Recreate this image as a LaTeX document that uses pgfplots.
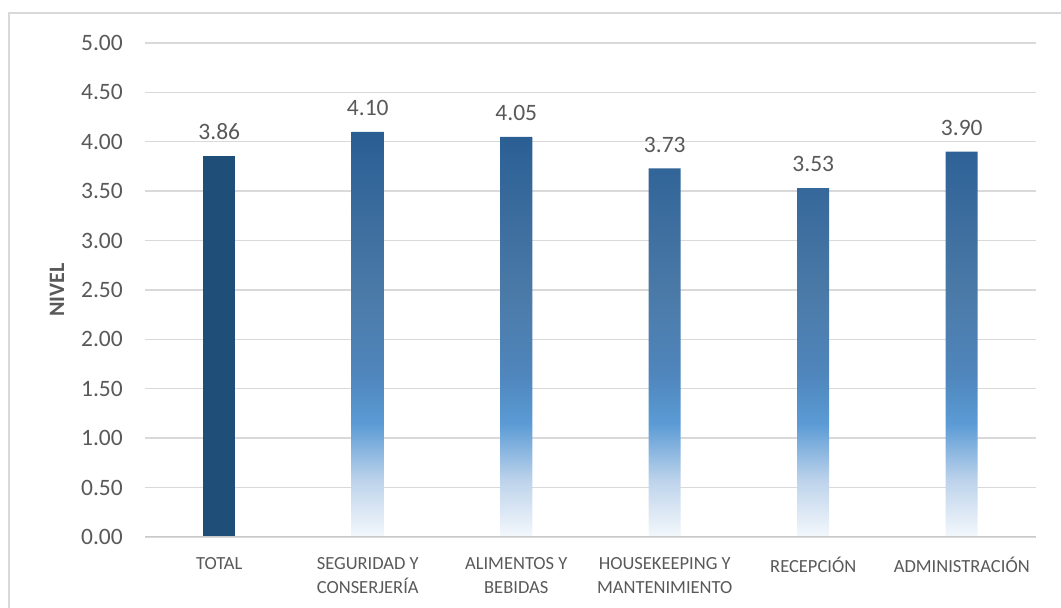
\documentclass[border=0pt]{standalone}
\usepackage{pgfplots}
\pgfplotsset{compat=1.18}
\usepackage{fontspec}
\setmainfont{Carlito}

\definecolor{txt}{HTML}{595959}
\definecolor{gridgray}{HTML}{D9D9D9}
\definecolor{basegray}{HTML}{C8C8C8}
\definecolor{framegray}{HTML}{D9D9D9}
\definecolor{totalblue}{HTML}{1F4E79}
\definecolor{sh0}{HTML}{F4F8FC}
\definecolor{sh1}{HTML}{BDD3EB}
\definecolor{sh2}{HTML}{5B9BD5}
\definecolor{sh3}{HTML}{4F86BC}
\definecolor{sh4}{HTML}{4B7AA8}
\definecolor{sh5}{HTML}{2A5E93}

% bar fill: pale at the base, bright blue lower third, dark blue on top
% (TikZ maps the 25bp--75bp band of a shading onto the filled path)
\pgfdeclareverticalshading{barshade}{100bp}{%
  color(0bp)=(sh0); color(25bp)=(sh0); color(32bp)=(sh1); color(39bp)=(sh2);
  color(45bp)=(sh3); color(55bp)=(sh4); color(75bp)=(sh5); color(100bp)=(sh5)}

\begin{document}
\begin{tikzpicture}
\begin{axis}[
  at={(145pt,71pt)}, anchor=south west,
  scale only axis, width=891pt, height=494pt,
  xmin=-0.5, xmax=5.5, ymin=0, ymax=5,
  axis line style={draw=none},
  tick style={draw=none},
  ymajorgrids, grid style={gridgray, line width=1.4pt},
  ytick={0,0.5,1,1.5,2,2.5,3,3.5,4,4.5,5},
  yticklabel style={font=\fontsize{23.5}{28}\selectfont, text=txt,
    inner sep=0pt, xshift=-22pt,
    /pgf/number format/.cd, fixed, fixed zerofill, precision=2,
    assume math mode=true},
  xtick={0,1,2,3,4,5},
  xticklabels={TOTAL, {SEGURIDAD Y\\CONSERJERÍA}, {ALIMENTOS Y\\BEBIDAS},
    {HOUSEKEEPING Y\\MANTENIMIENTO}, RECEPCIÓN, ADMINISTRACIÓN},
  xticklabel style={align=center, font=\fontsize{18.5}{24}\selectfont,
    text=txt, inner sep=0pt, anchor=north, yshift=-20pt},
  ylabel={\bfseries NIVEL},
  ylabel style={at={(axis description cs:-0.0988,0.5)}, anchor=center,
    font=\fontsize{22}{26}\selectfont, text=txt},
  bar width=32pt,
  nodes near coords,
  every node near coord/.append style={font=\fontsize{23.5}{28}\selectfont,
    text=txt, anchor=south, inner sep=0pt, yshift=16pt,
    /pgf/number format/.cd, fixed, fixed zerofill, precision=2,
    assume math mode=true},
]
\addplot[ybar, bar shift=0pt, draw=none, fill=totalblue]
  coordinates {(0,3.86)};
\addplot[ybar, bar shift=0pt, draw=none, shading=barshade]
  coordinates {(1,4.10) (2,4.05) (3,3.73) (4,3.53) (5,3.90)};
\draw[basegray, line width=1.6pt] (axis cs:-0.5,0) -- (axis cs:5.5,0);
\end{axis}
\draw[framegray, line width=2pt] (9pt,-20pt) |- (1090pt,595pt);
\pgfresetboundingbox
\useasboundingbox (0,0) rectangle (1061pt,608pt);
\end{tikzpicture}
\end{document}
